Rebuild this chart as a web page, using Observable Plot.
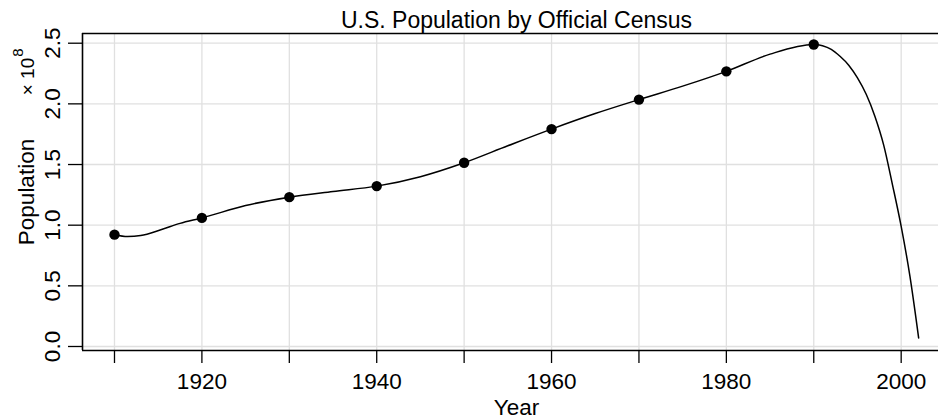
<!DOCTYPE html>
<html>
<head>
<meta charset="utf-8">
<script src="https://cdn.jsdelivr.net/npm/d3@7"></script>
<script src="https://cdn.jsdelivr.net/npm/@observablehq/plot@0.6"></script>
<style>
  html, body { margin: 0; padding: 0; background: #fff; overflow: hidden; }
</style>
</head>
<body>
<div id="chart"></div>
<script>
// Census points (population in units of 1e8)
const censusYears = [1910, 1920, 1930, 1940, 1950, 1960, 1970, 1980, 1990];
const censusPop   = [0.922, 1.060, 1.231, 1.322, 1.515, 1.792, 2.035, 2.268, 2.489];

// Fitted curve
const fitYears = [1910, 1911.5, 1913, 1915.3, 1917.5, 1920, 1925, 1930, 1935, 1940, 1945, 1950, 1955, 1960, 1965, 1970, 1975, 1980, 1985, 1990, 1991, 1992, 1993, 1994, 1995, 1996, 1997, 1998, 1999, 2000, 2001, 2002];
const fitPop   = [0.922, 0.907, 0.915, 0.962, 1.015, 1.060, 1.162, 1.231, 1.278, 1.322, 1.400, 1.515, 1.655, 1.792, 1.920, 2.035, 2.146, 2.268, 2.410, 2.489, 2.479, 2.449, 2.392, 2.319, 2.214, 2.079, 1.896, 1.660, 1.335, 0.990, 0.580, 0.070];

// Axes
const xTicks = [1910, 1920, 1930, 1940, 1950, 1960, 1970, 1980, 1990, 2000];
const xLabelled = [1920, 1940, 1960, 1980, 2000];
const yTicks = [0, 0.5, 1.0, 1.5, 2.0, 2.5];
const yTickLabels = ["0.0", "0.5", "1.0", "1.5", "2.0", "2.5"];
const xDomain = [1906.34, 2004.27];
const yDomain = [-0.033, 2.58];

const titleText = "U.S. Population by Official Census";
const xLabelText = "Year";
const yLabelText = "Population";
const expBaseText = "\u00d7 10";
const expPowText = "8";

const census = censusYears.map((year, i) => ({year, pop: censusPop[i]}));
const fit = fitYears.map((year, i) => ({year, pop: fitPop[i]}));

const font = "'Liberation Sans', Arial, Helvetica, sans-serif";
const gridColor = "#e0e0e0";
const fs = 22.5;

const chart = Plot.plot({
  width: 938,
  height: 419,
  marginLeft: 82,
  marginRight: 0,
  marginTop: 33,
  marginBottom: 69,
  style: {fontFamily: font, fontSize: fs + "px", color: "#000", background: "#fff", overflow: "visible"},
  x: {domain: xDomain, axis: null},
  y: {domain: yDomain, axis: null},
  marks: [
    Plot.gridX(xTicks, {stroke: gridColor, strokeOpacity: 1, strokeWidth: 1.3}),
    Plot.gridY(yTicks, {stroke: gridColor, strokeOpacity: 1, strokeWidth: 1.3}),
    Plot.ruleX([xDomain[0]], {stroke: "#000", strokeWidth: 1.6}),
    Plot.ruleY([yDomain[0]], {stroke: "#000", strokeWidth: 1.6}),
    Plot.ruleY([yDomain[1]], {stroke: "#000", strokeWidth: 1.6}),
    Plot.axisX(xTicks, {
      anchor: "bottom", tickSize: 13, tickPadding: 10, strokeWidth: 1.3,
      tickFormat: d => xLabelled.includes(d) ? String(d) : "",
      fontSize: fs, label: null
    }),
    Plot.axisY(yTicks, {
      anchor: "left", tickSize: 14, tickPadding: 9, tickRotate: -90, strokeWidth: 1.3,
      tickFormat: d => yTickLabels[yTicks.indexOf(d)],
      fontSize: fs, label: null
    }),
    Plot.line(fit, {x: "year", y: "pop", curve: "monotone-x", stroke: "#000", strokeWidth: 1.5}),
    Plot.dot(census, {x: "year", y: "pop", r: 5.2, fill: "#000", stroke: null}),
    Plot.text([titleText], {frameAnchor: "top", dx: 6, dy: -6, lineAnchor: "bottom", fontSize: 23}),
    Plot.text([xLabelText], {frameAnchor: "bottom", dx: 6, dy: 64, lineAnchor: "bottom", fontSize: fs}),
    Plot.text([yLabelText], {frameAnchor: "left", dx: -49, rotate: -90, textAnchor: "middle", lineAnchor: "bottom", fontSize: fs}),
    Plot.text([expBaseText], {frameAnchor: "top-left", dx: -48.5, dy: 43, rotate: -90, textAnchor: "middle", lineAnchor: "bottom", fontSize: 19}),
    Plot.text([expPowText], {frameAnchor: "top-left", dx: -60, dy: 19, rotate: -90, textAnchor: "middle", lineAnchor: "bottom", fontSize: 15})
  ]
});

document.getElementById("chart").appendChild(chart);
</script>
</body>
</html>
